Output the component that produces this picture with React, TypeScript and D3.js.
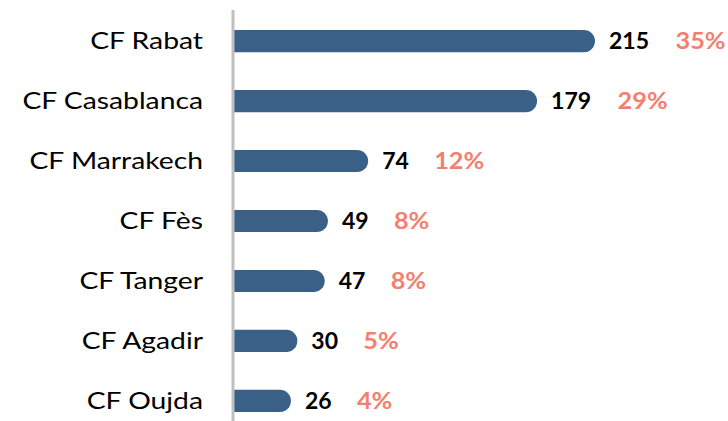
import React from "react";
import * as d3 from "d3";

const categories = ["CF Rabat", "CF Casablanca", "CF Marrakech", "CF Fès", "CF Tanger", "CF Agadir", "CF Oujda"];
const values = [215, 179, 74, 49, 47, 30, 26];
const percents = ["35%", "29%", "12%", "8%", "8%", "5%", "4%"];

const W = 728;
const H = 421;
const x0 = 233;

export default function App() {
  const x = d3.scaleLinear().domain([-10, 215]).range([x0, 595]);
  const y = d3.scaleBand<string>().domain(categories).range([12, 430]).paddingInner(0.63).paddingOuter(0.3);
  const bh = y.bandwidth();
  const font = "Lato, 'Open Sans', sans-serif";
  return (
    <svg width={W} height={H} style={{ position: "absolute", left: 0, top: 0, background: "#fff" }}>
      {categories.map((c, i) => {
        const yt = y(c)!;
        const xe = x(values[i]);
        const r = bh / 2;
        const path = `M${x0},${yt} H${xe - r} A${r},${r} 0 0 1 ${xe - r},${yt + bh} H${x0} Z`;
        const vx = xe + 14;
        const px = vx + String(values[i]).length * 14.5 + 23;
        const cy = yt + bh / 2;
        return (
          <g key={c}>
            <path d={path} fill="#3B6087" />
            <text transform={`translate(203,${cy}) scale(1.23,1)`} dy="0.35em" textAnchor="end" fontFamily={font} fontSize={23} fill="#000">{c}</text>
            <text x={vx} y={cy} dy="0.35em" fontFamily={font} fontSize={23} fontWeight="bold" fill="#000">{values[i]}</text>
            <text transform={`translate(${px},${cy}) scale(1.1,1)`} dy="0.35em" fontFamily={font} fontSize={23} fontWeight="bold" fill="#F2806F">{percents[i]}</text>
          </g>
        );
      })}
      <line x1={x0} x2={x0} y1={10} y2={H} stroke="#BFBFBF" strokeWidth={3} />
    </svg>
  );
}
